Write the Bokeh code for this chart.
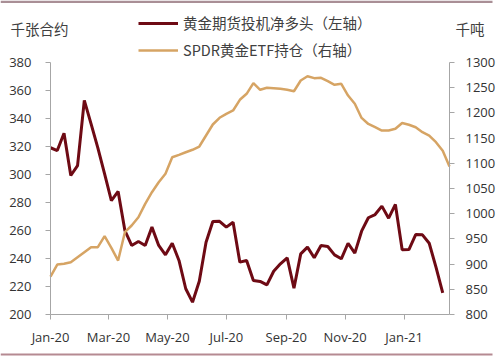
from datetime import datetime
import pandas as pd
from bokeh.plotting import figure
from bokeh.models import (Range1d, LinearAxis, FixedTicker, DatetimeTickFormatter,
                          Legend, LegendItem, Label, BoxAnnotation)
from bokeh.embed import file_html
from bokeh.resources import INLINE

# ---- data (weekly) ----
net_long = [319.1, 317.1, 329.5, 299.3, 306.4, 352.9, 336.2, 319.0, 300.5, 281.4,
            287.9, 260.0, 249.3, 252.1, 249.3, 262.4, 249.3, 242.6, 250.9, 238.6,
            218.4, 208.8, 223.8, 251.6, 266.4, 266.6, 262.4, 265.9, 237.4, 238.6,
            224.3, 223.6, 221.2, 230.9, 236.2, 240.5, 218.8, 243.3, 248.1, 240.5,
            249.3, 248.6, 242.6, 239.8, 250.9, 243.8, 259.5, 269.1, 271.4, 277.4,
            268.8, 278.6, 246.2, 246.4, 257.1, 256.9, 250.9, 233.8, 215.5]
spdr = [875, 899, 900.6, 903.8, 913.7, 923.6, 933.5, 933.5, 955.4, 932.3,
        907, 963.3, 976.6, 993, 1019.6, 1042.7, 1062.5, 1079.2, 1112.1, 1116.8,
        1122, 1126.8, 1133.3, 1155.2, 1177, 1190.3, 1198.2, 1204.8, 1226, 1237.9,
        1259, 1245.8, 1249.8, 1249, 1247.8, 1245.8, 1243, 1264.3, 1272.8, 1268.9,
        1269.6, 1262.9, 1255.8, 1257.7, 1234.5, 1218, 1190, 1178, 1171.6, 1165,
        1165, 1168.5, 1180, 1176.4, 1171.6, 1161.7, 1155, 1141.9, 1125, 1093.7]
net_dates = list(pd.date_range("2020-01-07", periods=len(net_long), freq="7D"))
spdr_dates = list(pd.date_range("2020-01-07", periods=len(spdr), freq="7D"))

x_ticks = [datetime(2020, 1, 7), datetime(2020, 3, 7), datetime(2020, 5, 7),
           datetime(2020, 7, 7), datetime(2020, 9, 7), datetime(2020, 11, 7),
           datetime(2021, 1, 7)]
left_ticks = [200, 220, 240, 260, 280, 300, 320, 340, 360, 380]
right_ticks = [800, 850, 900, 950, 1000, 1050, 1100, 1150, 1200, 1250, 1300]

series_names = ["黄金期货投机净多头（左轴）", "SPDR黄金ETF持仓（右轴）"]
left_unit = "千张合约"
right_unit = "千吨"

RED = "#6E0A14"
GOLD = "#D6A464"
AXIS = "#A6A6A6"
TXT = "#333333"
NUM_FONT = "Open Sans"
CJK_FONT = "Noto Sans CJK SC"

W, H = 500, 358
# plot area (axis extents) in page pixels
AX_L, AX_R, AX_T, AX_B = 50, 449, 62, 314


def ms(d):
    return pd.Timestamp(d).value / 1e6


t0, t1 = ms(spdr_dates[0]), ms(spdr_dates[-1])
l0, l1 = left_ticks[0], left_ticks[-1]
r0, r1 = right_ticks[0], right_ticks[-1]
mpp = (t1 - t0) / (AX_R - AX_L)
upp = (l1 - l0) / (AX_B - AX_T)
upp_r = (r1 - r0) / (AX_B - AX_T)


def X(px):
    return t0 + (px - AX_L) * mpp


def Y(py):
    return l0 + (AX_B - py) * upp


p = figure(width=W, height=H, x_axis_type="datetime",
           output_backend="svg", toolbar_location=None,
           x_range=Range1d(X(0), X(W)),
           y_range=Range1d(Y(H), Y(0)),
           min_border_left=0, min_border_right=0,
           min_border_top=0, min_border_bottom=0)
p.extra_y_ranges = {"right": Range1d(r0 - (H - AX_B) * upp_r, r1 + AX_T * upp_r)}
p.outline_line_color = None
p.xgrid.visible = False
p.ygrid.visible = False
p.background_fill_color = "white"
p.border_fill_color = "white"

r_net = p.line(net_dates, net_long, color=RED, line_width=3)
r_spdr = p.line(spdr_dates, spdr, color=GOLD, line_width=2.5, y_range_name="right")


def style(ax):
    ax.axis_line_color = AXIS
    ax.major_tick_line_color = AXIS
    ax.minor_tick_line_color = None
    ax.major_tick_in = 0
    ax.major_tick_out = 5
    ax.major_label_text_font = NUM_FONT
    ax.major_label_text_font_size = "13px"
    ax.major_label_text_color = TXT


xa = p.xaxis[0]
style(xa)
xa.ticker = FixedTicker(ticks=[ms(d) for d in x_ticks])
fmt = "%b-%y"
xa.formatter = DatetimeTickFormatter(microseconds=fmt, milliseconds=fmt, seconds=fmt,
                                     minsec=fmt, minutes=fmt, hourmin=fmt, hours=fmt,
                                     days=fmt, months=fmt, years=fmt)
xa.major_label_standoff = 8
xa.fixed_location = l0
xa.bounds = (t0, t1)

ya = p.yaxis[0]
style(ya)
ya.ticker = FixedTicker(ticks=left_ticks)
ya.major_label_standoff = 14
ya.fixed_location = t0
ya.bounds = (l0, l1)

ra = LinearAxis(y_range_name="right", ticker=FixedTicker(ticks=right_ticks))
style(ra)
ra.major_label_standoff = 11
ra.fixed_location = t1
ra.bounds = (r0, r1)
p.add_layout(ra, "right")

legend = Legend(items=[LegendItem(label=series_names[0], renderers=[r_net]),
                       LegendItem(label=series_names[1], renderers=[r_spdr])],
                location=(138, H - 60), orientation="vertical",
                glyph_width=40, glyph_height=20, label_height=20,
                label_standoff=5, spacing=6, padding=0, margin=0,
                border_line_color=None, background_fill_alpha=0,
                label_text_font=CJK_FONT, label_text_font_size="14.5px",
                label_text_color="#404040")
p.add_layout(legend)

p.add_layout(Label(x=X(10), y=Y(28), text=left_unit,
                   text_font=CJK_FONT, text_font_size="14.5px", text_color="#404040",
                   text_baseline="middle", text_align="left"))
p.add_layout(Label(x=X(455), y=Y(28), text=right_unit,
                   text_font=CJK_FONT, text_font_size="14.5px", text_color="#404040",
                   text_baseline="middle", text_align="left"))

# frame rules at top and bottom of the chart box
p.add_layout(BoxAnnotation(left=X(0), right=X(492), top=Y(0), bottom=Y(2.5),
                           fill_color="#A98F96", fill_alpha=1, line_color=None))
p.add_layout(BoxAnnotation(left=X(0), right=X(492), top=Y(353), bottom=Y(355),
                           fill_color="#B58A92", fill_alpha=1, line_color=None))

open("out.html", "w").write(file_html(p, INLINE))
